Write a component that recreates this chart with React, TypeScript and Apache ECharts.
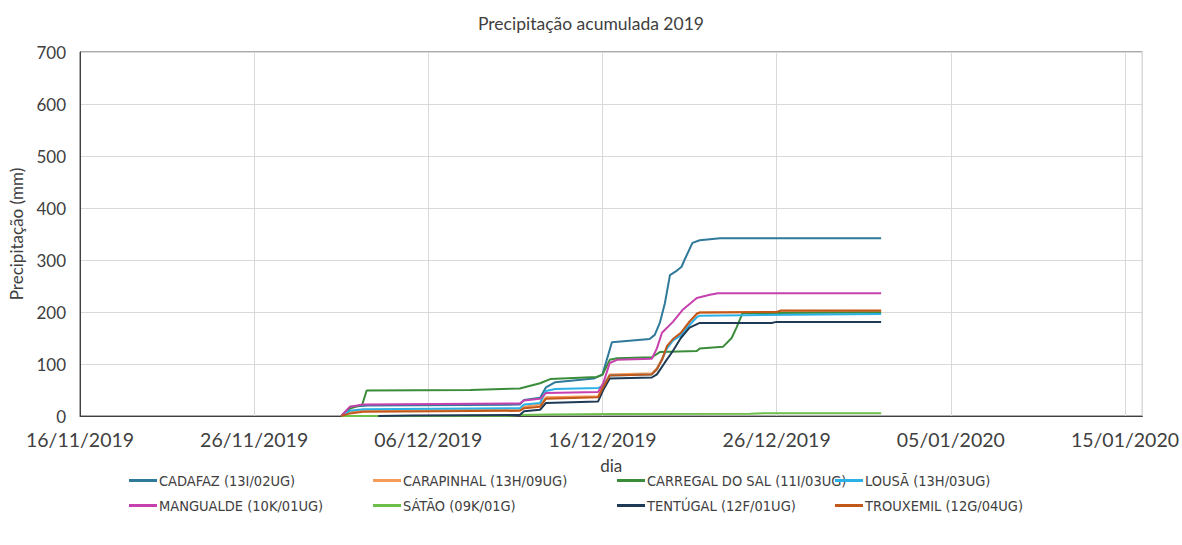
import React, { useEffect, useRef } from "react";
import * as echarts from "echarts";

type Pt = [string, number];

const seriesNames = [
  "CADAFAZ (13I/02UG)",
  "CARAPINHAL (13H/09UG)",
  "CARREGAL DO SAL (11I/03UG)",
  "LOUSÃ (13H/03UG)",
  "MANGUALDE (10K/01UG)",
  "SÁTÃO (09K/01G)",
  "TENTÚGAL (12F/01UG)",
  "TROUXEMIL (12G/04UG)",
];

const cadafaz: Pt[] = [
  ["2019-12-01 00", 0], ["2019-12-01 13", 18], ["2019-12-02 12", 20], ["2019-12-11 06", 22],
  ["2019-12-11 12", 31], ["2019-12-12 10", 35], ["2019-12-12 18", 55], ["2019-12-13 07", 65],
  ["2019-12-15 12", 72], ["2019-12-16 00", 80], ["2019-12-16 13", 142], ["2019-12-18 17", 148],
  ["2019-12-19 00", 156], ["2019-12-19 07", 179], ["2019-12-19 14", 217], ["2019-12-19 21", 271],
  ["2019-12-20 05", 278], ["2019-12-20 13", 287], ["2019-12-20 17", 300], ["2019-12-21 04", 333],
  ["2019-12-21 14", 338], ["2019-12-22 18", 342], ["2020-01-01 00", 342],
];

const carapinhal: Pt[] = [
  ["2019-12-01 00", 0], ["2019-12-01 12", 8], ["2019-12-02 06", 11], ["2019-12-11 06", 13],
  ["2019-12-11 12", 18], ["2019-12-12 10", 22], ["2019-12-12 18", 36], ["2019-12-15 18", 38],
  ["2019-12-16 01", 58], ["2019-12-16 10", 80], ["2019-12-18 20", 82], ["2019-12-19 03", 92],
  ["2019-12-19 10", 110], ["2019-12-19 17", 133], ["2019-12-20 01", 146], ["2019-12-20 12", 158],
  ["2019-12-21 00", 180], ["2019-12-21 10", 196], ["2019-12-21 14", 199], ["2020-01-01 00", 201],
];

const carregal: Pt[] = [
  ["2019-12-01 00", 0], ["2019-12-01 13", 15], ["2019-12-02 05", 22], ["2019-12-02 11", 49],
  ["2019-12-08 10", 50], ["2019-12-11 06", 53], ["2019-12-12 10", 63], ["2019-12-13 00", 71],
  ["2019-12-15 16", 75], ["2019-12-16 00", 79], ["2019-12-16 10", 108], ["2019-12-16 20", 111],
  ["2019-12-18 20", 113], ["2019-12-19 07", 123], ["2019-12-21 10", 125], ["2019-12-21 14", 130],
  ["2019-12-22 22", 133], ["2019-12-23 10", 150], ["2019-12-23 17", 171], ["2019-12-24 01", 198],
  ["2020-01-01 00", 199],
];

const lousa: Pt[] = [
  ["2019-12-01 00", 0], ["2019-12-01 12", 10], ["2019-12-02 06", 13], ["2019-12-11 06", 15],
  ["2019-12-11 12", 22], ["2019-12-12 10", 25], ["2019-12-12 18", 48], ["2019-12-13 07", 52],
  ["2019-12-15 18", 54], ["2019-12-16 01", 58], ["2019-12-16 10", 78], ["2019-12-18 20", 80],
  ["2019-12-19 03", 90], ["2019-12-19 10", 108], ["2019-12-19 17", 130], ["2019-12-20 01", 145],
  ["2019-12-20 12", 155], ["2019-12-21 00", 175], ["2019-12-21 10", 190], ["2019-12-21 14", 193],
  ["2020-01-01 00", 196],
];

const mangualde: Pt[] = [
  ["2019-12-01 00", 0], ["2019-12-01 12", 18], ["2019-12-02 06", 22], ["2019-12-11 06", 24],
  ["2019-12-11 12", 30], ["2019-12-12 10", 33], ["2019-12-12 18", 44], ["2019-12-15 18", 46],
  ["2019-12-16 01", 63], ["2019-12-16 10", 102], ["2019-12-16 20", 108], ["2019-12-18 20", 110],
  ["2019-12-19 03", 130], ["2019-12-19 10", 160], ["2019-12-20 01", 181], ["2019-12-20 15", 205],
  ["2019-12-21 10", 227], ["2019-12-22 04", 233], ["2019-12-22 15", 236], ["2020-01-01 00", 236],
];

const satao: Pt[] = [
  ["2019-12-01 00", 0], ["2019-12-10 12", 0.5], ["2019-12-11 06", 2], ["2019-12-13 00", 3],
  ["2019-12-16 12", 4], ["2019-12-24 12", 4.5], ["2019-12-25 06", 5.5], ["2020-01-01 00", 5.5],
];

const tentugal: Pt[] = [
  ["2019-12-03 03", 0], ["2019-12-05 00", 1], ["2019-12-11 06", 2], ["2019-12-11 12", 9],
  ["2019-12-12 10", 12], ["2019-12-12 18", 25], ["2019-12-15 18", 28], ["2019-12-16 01", 50],
  ["2019-12-16 10", 72], ["2019-12-18 20", 74], ["2019-12-19 03", 80], ["2019-12-19 14", 103],
  ["2019-12-20 01", 125], ["2019-12-20 12", 150], ["2019-12-21 00", 170], ["2019-12-21 14", 179],
  ["2019-12-25 17", 179], ["2019-12-26 00", 181], ["2020-01-01 00", 181],
];

const trouxemil: Pt[] = [
  ["2019-12-01 00", 0], ["2019-12-01 12", 5], ["2019-12-02 06", 8], ["2019-12-11 06", 10],
  ["2019-12-11 12", 15], ["2019-12-12 10", 18], ["2019-12-12 18", 33], ["2019-12-15 18", 36],
  ["2019-12-16 01", 56], ["2019-12-16 10", 78], ["2019-12-18 20", 80], ["2019-12-19 03", 90],
  ["2019-12-19 10", 108], ["2019-12-19 17", 135], ["2019-12-20 01", 148], ["2019-12-20 12", 160],
  ["2019-12-21 00", 182], ["2019-12-21 10", 197], ["2019-12-21 14", 199], ["2019-12-26 00", 200],
  ["2019-12-26 06", 203], ["2020-01-01 00", 203],
];

const seriesData: Pt[][] = [cadafaz, carapinhal, carregal, lousa, mangualde, satao, tentugal, trouxemil];

const colors = ["#2F7A9B", "#F59B5C", "#3A8C3A", "#2CB1E6", "#C640AE", "#6CC04A", "#1E3A54", "#C2571A"];

const axisStart = Date.UTC(2019, 10, 16);
const DAY = 86400000;
const yTicks = { min: 0, max: 700, step: 100 };
const xTicks = { min: 0, max: 61, step: 10 };

function toDay(s: string): number {
  const [d, h] = s.split(" ");
  const [y, m, dd] = d.split("-").map(Number);
  return (Date.UTC(y, m - 1, dd, Number(h || 0)) - axisStart) / DAY;
}

function fmtDay(v: number): string {
  if (Math.abs(v % 10) > 1e-6) return "";
  const dt = new Date(axisStart + v * DAY);
  const p = (n: number) => String(n).padStart(2, "0");
  return `${p(dt.getUTCDate())}/${p(dt.getUTCMonth() + 1)}/${dt.getUTCFullYear()}`;
}

const FONT = "Lato";
const NARROW = "'Liberation Sans Narrow', 'DejaVu Sans Condensed', Lato";
const TXT = "#404040";

export default function App() {
  const ref = useRef<HTMLDivElement>(null);
  useEffect(() => {
    if (!ref.current) return;
    const chart = echarts.init(ref.current, undefined, { renderer: "svg" });
    const colX = [129, 373, 617, 835];
    const rowY = [473, 498];
    const legends = seriesNames.map((name, i) => ({
      data: [name],
      left: colX[i % 4],
      top: rowY[Math.floor(i / 4)],
      padding: 0,
      itemWidth: 28,
      itemHeight: 3,
      icon: "rect",
      textStyle: { fontFamily: NARROW, fontSize: 14.5, color: TXT, padding: [0, 0, 0, -3] },
    }));
    chart.setOption({
      animation: false,
      color: colors,
      title: {
        text: "Precipitação acumulada 2019",
        left: "center",
        top: 9,
        textStyle: { fontFamily: FONT, fontSize: 17.5, fontWeight: "normal", color: TXT },
      },
      legend: legends,
      grid: {
        left: 79,
        right: 39,
        top: 52,
        bottom: 129,
        show: true,
        borderColor: "#595959",
        borderWidth: 1,
      },
      xAxis: {
        type: "value",
        min: xTicks.min,
        max: xTicks.max,
        interval: xTicks.step,
        name: "dia",
        nameLocation: "middle",
        nameGap: 41,
        nameTextStyle: { fontFamily: FONT, fontSize: 17, color: TXT },
        axisLine: { show: true, lineStyle: { color: "#404040", width: 1 } },
        axisTick: { show: false },
        axisLabel: { formatter: fmtDay, fontFamily: FONT, fontSize: 19.5, color: TXT, margin: 13 },
        splitLine: { show: true, lineStyle: { color: "#D9D9D9", width: 1 } },
      },
      yAxis: {
        type: "value",
        min: yTicks.min,
        max: yTicks.max,
        interval: yTicks.step,
        name: "Precipitação (mm)",
        nameLocation: "middle",
        nameGap: 55,
        nameTextStyle: { fontFamily: FONT, fontSize: 17, color: TXT },
        axisLine: { show: true, lineStyle: { color: "#404040", width: 1 } },
        axisTick: { show: false },
        axisLabel: { fontFamily: FONT, fontSize: 17, color: TXT, margin: 14 },
        splitLine: { show: true, lineStyle: { color: "#D9D9D9", width: 1 } },
      },
      series: seriesNames.map((name, i) => ({
        name,
        type: "line",
        showSymbol: false,
        symbol: "none",
        lineStyle: { width: 2, color: colors[i] },
        itemStyle: { color: colors[i] },
        data: seriesData[i].map(([d, v]) => [toDay(d), v]),
      })),
    });
    return () => chart.dispose();
  }, []);
  return (
    <div
      ref={ref}
      style={{ position: "fixed", left: 0, top: 0, width: 1182, height: 545, background: "#fff" }}
    />
  );
}
